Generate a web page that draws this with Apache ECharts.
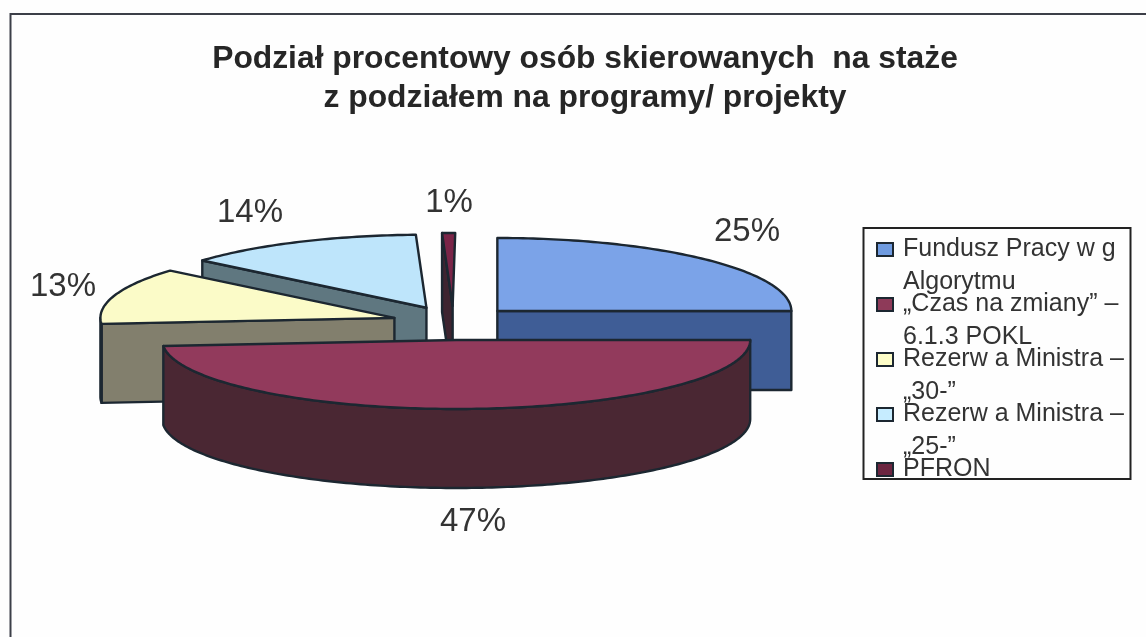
<!DOCTYPE html>
<html><head><meta charset="utf-8">
<style>html,body{margin:0;padding:0;background:#fff}#c{width:1146px;height:637px}</style>
<script src="https://cdn.jsdelivr.net/npm/echarts@6/dist/echarts.min.js"></script>
</head><body><div id="c"></div>
<script>
const categories = ['Fundusz Pracy w g Algorytmu', '„Czas na zmiany” – 6.1.3 POKL', 'Rezerw a Ministra – „30-”', 'Rezerw a Ministra – „25-”', 'PFRON'];
const values = [25, 47, 13, 14, 1];
const legendLines = [['Fundusz Pracy w g', 'Algorytmu'], ['„Czas na zmiany” –', '6.1.3 POKL'], ['Rezerw a Ministra –', '„30-”'], ['Rezerw a Ministra –', '„25-”'], ['PFRON', ' ']];
const topColors = ['#7ba3e8', '#923a5c', '#fbfbc8', '#bee5fb', '#7a2548'];
const wallColors = ['#3f5d96', '#4a2733', '#827f6d', '#5f7780', '#3e2430'];
const swatchColors = ['#6f9be0', '#8e3a59', '#fdfdc8', '#c6ecff', '#6b2540'];
const labelAnchors = [[747, 232], [473, 522], [63, 287], [250, 213], [449, 203]];
const drawOrder = [3, 2, 4, 0, 1];

// layout of the tilted pie
const CX = 453.5, CY = 323, RX = 294, RY_BACK = 73, RY_FRONT = 69, DEPTH = 79, EXPLODE = 62, TILT = 0.274;
const STROKE = '#1c2731';
const rad = d => d * Math.PI / 180;
// foreshortening of the tilted view: slices nearer the viewer look a little wider
const warp = a => a <= 90 ? a : Math.min(a + 6 * Math.sin(rad((a - 90) * 0.62)), 360.5);
const total = values.reduce((a, b) => a + b, 0);
const arcs = [];
values.reduce((acc, v, i) => { arcs[i] = [warp(acc / total * 360), warp((acc + v) / total * 360)]; return acc + v; }, 0);

function onRim(c, a) {
  const cos = Math.cos(rad(a));
  return [c[0] + RX * Math.sin(rad(a)), c[1] - (cos >= 0 ? RY_BACK : RY_FRONT) * cos];
}
const drop = p => [p[0], p[1] + DEPTH];
function rimPoints(c, a, b) {
  const pts = [];
  for (let t = a; t < b; t += 1) pts.push(onRim(c, t));
  pts.push(onRim(c, b));
  return pts;
}
function poly(points, fill) {
  return { type: 'polygon', shape: { points }, style: { fill, stroke: STROKE, lineWidth: 2.4, lineJoin: 'round' } };
}
function renderSlice(i) {
  return function () {
    const [s, e] = arcs[i];
    const mid = (s + e) / 2;
    const c = [CX + EXPLODE * Math.sin(rad(mid)), CY - EXPLODE * TILT * Math.cos(rad(mid))];
    const children = [];
    if (Math.sin(rad(s)) < -1e-6) { const p = onRim(c, s); children.push(poly([p, c, drop(c), drop(p)], wallColors[i])); }
    if (Math.sin(rad(e)) > 1e-6 && e < 180) { const p = onRim(c, e); children.push(poly([c, p, drop(p), drop(c)], wallColors[i])); }
    const ws = Math.max(s, 90), we = Math.min(e, 270);
    if (we > ws) { const r = rimPoints(c, ws, we); children.push(poly(r.concat(r.map(drop).reverse()), wallColors[i])); }
    children.push(poly([c].concat(rimPoints(c, s, e)), topColors[i]));
    children.push({
      type: 'text', z2: 50,
      style: { x: labelAnchors[i][0], y: labelAnchors[i][1], text: values[i] + '%', fill: '#333', align: 'center', verticalAlign: 'middle', font: '33px "Liberation Sans"' }
    });
    return { type: 'group', children };
  };
}

const series = drawOrder.map((i, k) => ({
  type: 'custom', name: categories[i], coordinateSystem: 'none', z: 2 + k, silent: true,
  itemStyle: { color: swatchColors[i], borderColor: STROKE, borderWidth: 2 },
  data: [[values[i]]], renderItem: renderSlice(i), animation: false
}));

const chart = echarts.init(document.getElementById('c'), null, { renderer: 'canvas' });
chart.setOption({
  backgroundColor: '#fefefe', animation: false,
  title: {
    text: 'Podział procentowy osób skierowanych  na staże\nz podziałem na programy/ projekty',
    left: 580, top: 35, textAlign: 'center',
    textStyle: { fontFamily: 'Liberation Sans', fontWeight: 'bold', fontSize: 31.8, lineHeight: 39, color: '#262626' }
  },
  legend: {
    orient: 'vertical', left: 876, top: 200, padding: 0, itemGap: -44, itemWidth: 16, itemHeight: 13, icon: 'rect',
    selectedMode: false, data: categories,
    formatter: n => { const l = legendLines[categories.indexOf(n)]; return '\n' + l[0] + '\n' + l[1]; },
    textStyle: { fontFamily: 'Liberation Sans', fontSize: 25, lineHeight: 33, color: '#333', padding: [0, 0, 0, 5] }
  },
  graphic: [
    { type: 'polyline', silent: true, z: 0, shape: { points: [[10.5, 637], [10.5, 14], [1146, 14]] }, style: { fill: null, stroke: '#3c3f48', lineWidth: 2 } },
    { type: 'rect', silent: true, z: 0, shape: { x: 863.5, y: 228, width: 267, height: 251 }, style: { fill: '#fefefe', stroke: '#222', lineWidth: 2 } }
  ],
  series
});
</script></body></html>
